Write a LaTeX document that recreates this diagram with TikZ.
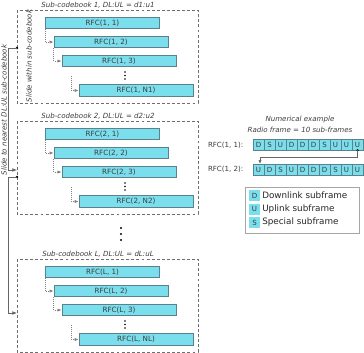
\documentclass[tikz,border=0pt]{standalone}
\usepackage{fontspec}
\setmainfont{DejaVu Sans}
\usetikzlibrary{arrows.meta}
\definecolor{cyanfill}{RGB}{122,222,236}
\definecolor{cyanborder}{RGB}{90,130,140}
\definecolor{dashgray}{RGB}{110,110,110}
\definecolor{textgray}{RGB}{60,60,60}
\tikzset{
  rfc/.style={draw=cyanborder, fill=cyanfill, line width=0.6pt, minimum height=8.6pt, minimum width=85.5pt, inner sep=0pt, font=\fontsize{5.4}{6}\selectfont, text=textgray},
  cbox/.style={draw=dashgray, dashed, dash pattern=on 2.2pt off 1.6pt, line width=0.5pt},
  ctitle/.style={font=\itshape\fontsize{5.3}{6}\selectfont, text=textgray},
  dotconn/.style={draw=gray, densely dotted, line width=0.5pt, -{Latex[length=3pt,width=2.4pt]}},
  slide/.style={draw=gray!80!black, line width=0.5pt},
  cell/.style={draw=cyanborder, fill=cyanfill, line width=0.5pt, minimum width=8.25pt, minimum height=8.25pt, inner sep=0pt, font=\fontsize{5.3}{6}\selectfont, text=textgray},
  vdots/.style={fill=black, circle, inner sep=0pt, minimum size=1.2pt},
  lbl/.style={font=\fontsize{5.3}{6}\selectfont, text=textgray},
  legtext/.style={font=\fontsize{6.6}{7}\selectfont, text=black!85, anchor=west, inner sep=0pt}
}
\begin{document}
\begin{tikzpicture}[x=0.75pt,y=-0.75pt]
\useasboundingbox (0,0) rectangle (364,353);

% ---------- Sub-codebook boxes ----------
\foreach \k/\dy/\lab/\ratio/\n in {1/0/1/d1:u1/N1, 2/111/2/d2:u2/N2, 3/249/L/dL:uL/NL}{
  \begin{scope}[yshift=-\dy*0.75pt]
    \node[ctitle] (t\k) at (98,5) {Sub-codebook \lab, DL:UL = \ratio};
    \draw[cbox] (17,10) rectangle (198,103);
    \node[rfc] (r\k a) at (102.5,23) {RFC(\lab, 1)};
    \node[rfc] (r\k b) at (111,42) {RFC(\lab, 2)};
    \node[rfc] (r\k c) at (119,61) {RFC(\lab, 3)};
    \node[rfc] (r\k n) at (136,90.5) {RFC(\lab, \n)};
    \node[vdots] (d\k a) at (125,72) {};
    \node[vdots] (d\k b) at (125,75.5) {};
    \node[vdots] (d\k c) at (125,79) {};
    \coordinate (c\k c) at (71,76);
    \draw[dotconn] (r\k a.south west) |- (r\k b.west);
    \draw[dotconn] (r\k b.south west) |- (r\k c.west);
    \draw[dotconn] (c\k c) |- (r\k n.west);
  \end{scope}
}

% slide within sub-codebook label
\node[ctitle, rotate=90] (sw) at (29,56) {Slide within sub-codebook};
% slide to nearest label
\node[ctitle, rotate=90] (sn) at (4,110) {Slide to nearest DL:UL sub-codebook};

% big dots between box 2 and L
\node[vdots, minimum size=1.6pt] (bd1) at (121,228) {};
\node[vdots, minimum size=1.6pt] (bd2) at (121,234) {};
\node[vdots, minimum size=1.6pt] (bd3) at (121,240) {};

% slide connectors on the left
\coordinate (s1) at (17,48);
\coordinate (s1e) at (17,170);
\coordinate (s2) at (17,177);
\coordinate (s2e) at (17,313);
\fill[black] (s1) circle (1.1pt);
\fill[black] (s2) circle (1.1pt);
\draw[slide, -{Latex[length=3.5pt,width=2.8pt]}] (s1) -- (8,48) -- (8,170) -- (s1e);
\draw[slide, -{Latex[length=3.5pt,width=2.8pt]}] (s2) -- (8,177) -- (8,313) -- (s2e);

% ---------- Numerical example ----------
\node[ctitle] (ne1) at (300,120) {Numerical example};
\node[ctitle] (ne2) at (300,129.5) {Radio frame = 10 sub-frames};
\node[lbl, anchor=east] (l1) at (248,145) {RFC(1, 1):};
\node[lbl, anchor=east] (l2) at (248,169.5) {RFC(1, 2):};
\foreach \s [count=\i] in {D,S,U,D,D,D,S,U,U,U}{
  \node[cell] (a\i) at ({253+5.5+(\i-1)*11},144.5) {\s};
}
\foreach \s [count=\i] in {U,D,S,U,D,D,D,S,U,U}{
  \node[cell] (b\i) at ({253+5.5+(\i-1)*11},169.5) {\s};
}
\fill[black] (a10.south) circle (1pt);
\draw[slide, -{Latex[length=3pt,width=2.4pt]}] (a10.south) -- (357.5,157) -- (260,157) -- (260,164);

% ---------- Legend ----------
\draw[draw=gray!70, line width=0.5pt] (245,187) rectangle (359,233);
\node[cell, draw=none] (kd) at (254.5,195.5) {D};
\node[cell, draw=none] (ku) at (254.5,209) {U};
\node[cell, draw=none] (ks) at (254.5,222.5) {S};
\node[legtext] (td) at (262,195.5) {Downlink subframe};
\node[legtext] (tu) at (262,209) {Uplink subframe};
\node[legtext] (ts) at (262,222.5) {Special subframe};
\end{tikzpicture}
\end{document}
